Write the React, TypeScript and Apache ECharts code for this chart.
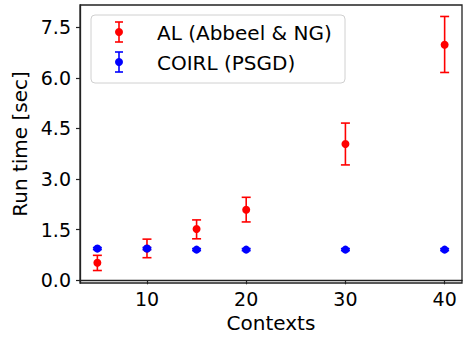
import React, { useEffect, useRef } from "react";
import * as echarts from "echarts";

const contexts = [5, 10, 15, 20, 30, 40];
const alMean = [0.52, 0.94, 1.52, 2.09, 4.04, 6.98];
const alLow = [0.29, 0.67, 1.23, 1.73, 3.42, 6.16];
const alHigh = [0.74, 1.22, 1.79, 2.46, 4.66, 7.82];
const coirlMean = [0.94, 0.94, 0.91, 0.91, 0.91, 0.91];
const coirlLow = [0.91, 0.91, 0.88, 0.88, 0.88, 0.88];
const coirlHigh = [0.97, 0.97, 0.94, 0.94, 0.94, 0.94];
const xTicks = [10, 20, 30, 40];
const yTicks = [0, 1.5, 3.0, 4.5, 6.0, 7.5];
const seriesNames = ["AL (Abbeel & NG)", "COIRL (PSGD)"];
const colors = ["#ff0000", "#0000ff"];

const FONT = "DejaVu Sans";

function errorRender(color: string) {
  return (params: any, api: any) => {
    const x = api.value(0);
    const lo = api.coord([x, api.value(1)]);
    const hi = api.coord([x, api.value(2)]);
    const cw = 4.5;
    const style = { stroke: color, lineWidth: 1.6 };
    return {
      type: "group",
      children: [
        { type: "line", shape: { x1: lo[0], y1: lo[1], x2: hi[0], y2: hi[1] }, style },
        { type: "line", shape: { x1: lo[0] - cw, y1: lo[1], x2: lo[0] + cw, y2: lo[1] }, style },
        { type: "line", shape: { x1: hi[0] - cw, y1: hi[1], x2: hi[0] + cw, y2: hi[1] }, style },
      ],
    };
  };
}

function legendItem(y: number, color: string, label: string) {
  const style = { stroke: color, lineWidth: 1.6 };
  const cx = 119;
  return [
    { type: "line", shape: { x1: cx, y1: y - 10, x2: cx, y2: y + 10 }, style, z: 101 },
    { type: "line", shape: { x1: cx - 4, y1: y - 10, x2: cx + 4, y2: y - 10 }, style, z: 101 },
    { type: "line", shape: { x1: cx - 4, y1: y + 10, x2: cx + 4, y2: y + 10 }, style, z: 101 },
    { type: "circle", shape: { cx, cy: y, r: 4 }, style: { fill: color }, z: 102 },
    {
      type: "text",
      x: 157,
      y: y + 1,
      style: { text: label, fill: "#000", font: `20px '${FONT}'`, verticalAlign: "middle", align: "left" },
      z: 102,
    },
  ];
}

export default function App() {
  const ref = useRef<HTMLDivElement>(null);
  useEffect(() => {
    if (!ref.current) return;
    const chart = echarts.init(ref.current, undefined, { renderer: "svg" });
    const axisLine = { show: true, lineStyle: { color: "#222", width: 1.3 } };
    chart.setOption({
      animation: false,
      backgroundColor: "#fff",
      grid: { left: 80, right: 2, top: 5, bottom: 56, show: true, borderColor: "#222", borderWidth: 1.3 },
      xAxis: {
        type: "value",
        min: 3.25,
        max: 41.75,
        name: "Contexts",
        nameLocation: "middle",
        nameGap: 29,
        nameTextStyle: { fontFamily: FONT, fontSize: 20, color: "#000" },
        axisLine,
        axisTick: { show: true, customValues: xTicks, length: 4, lineStyle: { color: "#222", width: 1.2 } },
        axisLabel: { customValues: xTicks, fontFamily: FONT, fontSize: 19, color: "#000", margin: 6 },
        splitLine: { show: false },
      },
      yAxis: {
        type: "value",
        min: -0.08,
        max: 8.16,
        name: "Run time [sec]",
        nameLocation: "middle",
        nameGap: 48,
        nameTextStyle: { fontFamily: FONT, fontSize: 20, color: "#000" },
        axisLine,
        axisTick: { show: true, customValues: yTicks, length: 4, lineStyle: { color: "#222", width: 1.2 } },
        axisLabel: {
          customValues: yTicks,
          fontFamily: FONT,
          fontSize: 19,
          color: "#000",
          margin: 9,
          formatter: (v: number) => v.toFixed(1),
        },
        splitLine: { show: false },
      },
      series: [
        {
          type: "custom",
          name: seriesNames[0] + " err",
          renderItem: errorRender(colors[0]),
          encode: { x: 0, y: [1, 2] },
          data: contexts.map((c, i) => [c, alLow[i], alHigh[i]]),
          z: 2,
          clip: false,
        },
        {
          type: "scatter",
          name: seriesNames[0],
          symbol: "circle",
          symbolSize: 8,
          itemStyle: { color: colors[0], opacity: 1 },
          data: contexts.map((c, i) => [c, alMean[i]]),
          z: 3,
        },
        {
          type: "custom",
          name: seriesNames[1] + " err",
          renderItem: errorRender(colors[1]),
          encode: { x: 0, y: [1, 2] },
          data: contexts.map((c, i) => [c, coirlLow[i], coirlHigh[i]]),
          z: 4,
          clip: false,
        },
        {
          type: "scatter",
          name: seriesNames[1],
          symbol: "circle",
          symbolSize: 8,
          itemStyle: { color: colors[1], opacity: 1 },
          data: contexts.map((c, i) => [c, coirlMean[i]]),
          z: 5,
        },
      ],
      graphic: [
        {
          type: "rect",
          shape: { x: 91, y: 15, width: 254, height: 68, r: 4 },
          style: { fill: "rgba(255,255,255,0.8)", stroke: "#d0d0d0", lineWidth: 1 },
          z: 100,
        },
        ...legendItem(32, colors[0], seriesNames[0]),
        ...legendItem(62, colors[1], seriesNames[1]),
      ],
    });
    return () => chart.dispose();
  }, []);
  return <div ref={ref} style={{ position: "absolute", left: 0, top: 0, width: 464, height: 339 }} />;
}
